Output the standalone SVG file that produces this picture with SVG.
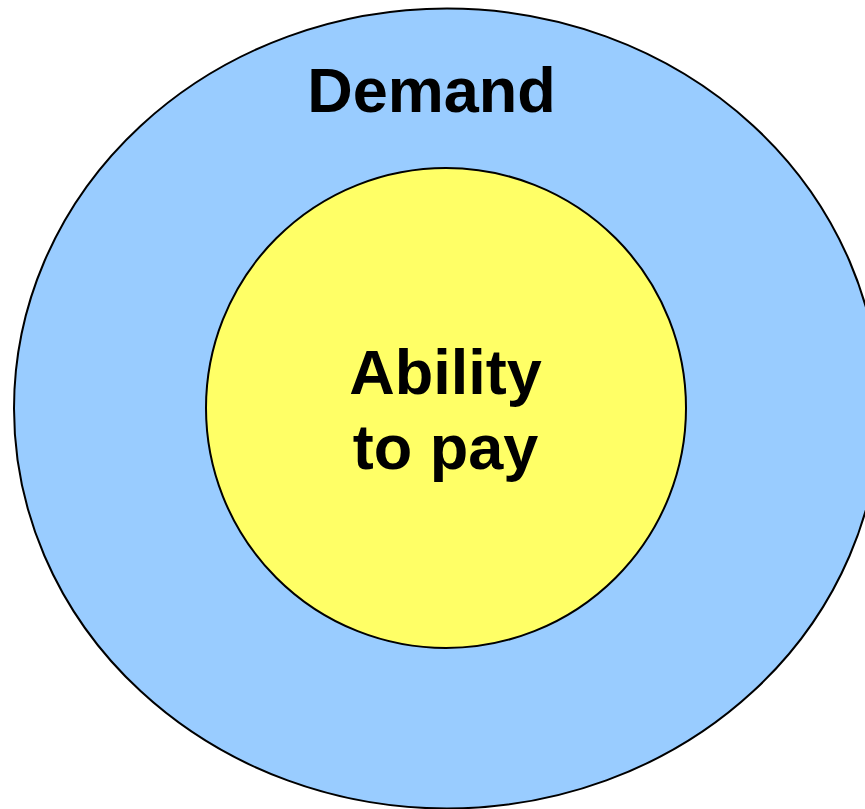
<svg xmlns="http://www.w3.org/2000/svg" width="865" height="809" viewBox="0 0 865 809">
<style>
.lbl{font-family:"Liberation Sans",Arial,sans-serif;font-weight:bold;font-size:63px;fill:#000;text-anchor:middle}
</style>
<rect width="865" height="809" fill="#fff"/>
<g id="demand">
<ellipse cx="447" cy="408.5" rx="433" ry="400" fill="#99ccff" stroke="#000" stroke-width="2"/>
<text class="lbl" x="431.5" y="112">Demand</text>
</g>
<g id="ability">
<circle cx="446" cy="408" r="240" fill="#ffff66" stroke="#000" stroke-width="2"/>
<text class="lbl" x="445.5" y="394">Ability</text>
<text class="lbl" x="445.5" y="469">to pay</text>
</g>
<g id="connectors"></g>
</svg>
